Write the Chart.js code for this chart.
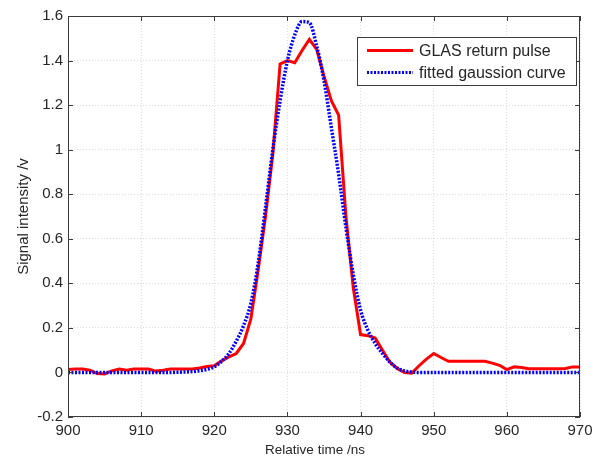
<!DOCTYPE html>
<html>
<head>
<meta charset="utf-8">
<script src="https://cdn.jsdelivr.net/npm/chart.js@4.4.1/dist/chart.umd.min.js"></script>
<style>
  html,body{margin:0;padding:0;background:#fff;}
  #wrap{width:602px;height:458px;}
</style>
</head>
<body>
<div id="wrap"><canvas id="myChart" width="602" height="458"></canvas></div>
<script>
//---------- data ----------
const timeNs=[900,901,902,903,904,905,906,907,908,909,910,911,912,913,914,915,916,917,918,919,
  920,921,922,923,924,925,926,927,928,929,930,931,932,933,934,935,936,937,938,939,
  940,941,942,943,944,945,946,947,948,949,950,951,952,953,954,955,956,957,958,959,
  960,961,962,963,964,965,966,967,968,969,970];
const glasPulse=[0.013,0.015,0.015,0.01,-0.005,-0.007,0.007,0.015,0.01,0.015,0.015,0.015,0.006,0.01,0.015,0.015,0.015,0.015,0.02,0.027,
  0.03,0.052,0.07,0.085,0.13,0.24,0.46,0.7,0.98,1.385,1.40,1.39,1.445,1.495,1.45,1.33,1.22,1.155,0.7,0.38,
  0.17,0.165,0.155,0.10,0.047,0.018,0.0,-0.003,0.03,0.06,0.085,0.067,0.05,0.05,0.05,0.05,0.05,0.05,0.042,0.032,
  0.013,0.025,0.022,0.017,0.017,0.017,0.017,0.017,0.018,0.025,0.025];
const gaussFit=[0,0,0,0,0,0,0,0,0,0,0,0,0,0,0,0.001,0.002,0.004,0.008,0.014,
  0.025,0.05,0.085,0.14,0.21,0.31,0.49,0.74,1.0,1.22,1.40,1.515,1.575,1.57,1.465,1.31,1.10,0.89,0.65,0.44,
  0.28,0.19,0.13,0.085,0.047,0.02,0.007,0.002,0,0,0,0,0,0,0,0,0,0,0,0,
  0,0,0,0,0,0,0,0,0,0,0];
const xTicks=[900,910,920,930,940,950,960,970];
const yTicks=[-0.2,0,0.2,0.4,0.6,0.8,1,1.2,1.4,1.6];
const seriesNames=["GLAS return pulse","fitted gaussion curve"];
const seriesColors=["#ff0000","#0000ff"];
const xTitle="Relative time /ns";
const yTitle="Signal intensity /v";

const fontName="'Liberation Sans', Arial, sans-serif";
const textColor="#262626";

// box round plot + inward ticks + x title + legend in upper right
const frameAndLegend={
  id:'frameAndLegend',
  afterDraw(chart){
    const c=chart.ctx, a=chart.chartArea;
    const xs=chart.scales.x, ys=chart.scales.y;
    c.save();
    c.strokeStyle='#3c3c3c';
    c.lineWidth=1;
    c.strokeRect(a.left+0.5,a.top+0.5,a.right-a.left-1,a.bottom-a.top-1);
    c.beginPath();
    xTicks.forEach(v=>{
      const px=Math.round(xs.getPixelForValue(v))+0.5;
      c.moveTo(px,a.bottom);c.lineTo(px,a.bottom-5);
      c.moveTo(px,a.top);c.lineTo(px,a.top+5);
    });
    yTicks.forEach(v=>{
      const py=Math.round(ys.getPixelForValue(v))+0.5;
      c.moveTo(a.left,py);c.lineTo(a.left+5,py);
      c.moveTo(a.right,py);c.lineTo(a.right-5,py);
    });
    c.stroke();

    // x axis title (sits a little left of centre in the original)
    c.fillStyle=textColor;
    c.font='13.5px '+fontName;
    c.textAlign='center';
    c.textBaseline='alphabetic';
    c.fillText(xTitle,315,454);

    // legend
    const bx=357,by=37,bw=219,bh=48;
    c.fillStyle='#fff';
    c.fillRect(bx,by,bw,bh);
    c.strokeStyle='#3c3c3c';
    c.strokeRect(bx+0.5,by+0.5,bw,bh);
    c.font='16px '+fontName;
    c.textAlign='left';
    c.textBaseline='middle';
    const rows=[50.5,72.5];
    seriesNames.forEach((name,i)=>{
      c.beginPath();
      c.strokeStyle=seriesColors[i];
      c.lineWidth=3;
      c.setLineDash(i===1?[2,1.5]:[]);
      c.moveTo(367,rows[i]);c.lineTo(413,rows[i]);
      c.stroke();
      c.setLineDash([]);
      c.fillStyle=textColor;
      c.fillText(name,419,rows[i]+1);
    });
    c.restore();
  }
};

const ctx=document.getElementById('myChart');
const chart=new Chart(ctx,{
  type:'line',
  data:{
    datasets:[
      {
        label:seriesNames[0],
        data:timeNs.map((t,i)=>({x:t,y:glasPulse[i]})),
        borderColor:seriesColors[0],
        borderWidth:3,
        pointRadius:0,
        tension:0,
        order:2
      },
      {
        label:seriesNames[1],
        data:timeNs.map((t,i)=>({x:t,y:gaussFit[i]})),
        borderColor:seriesColors[1],
        borderWidth:3.5,
        borderDash:[2,1.5],
        pointRadius:0,
        cubicInterpolationMode:'monotone',
        order:1
      }
    ]
  },
  options:{
    responsive:false,
    animation:false,
    layout:{padding:{top:16,right:22,left:0,bottom:0}},
    plugins:{legend:{display:false},tooltip:{enabled:false}},
    scales:{
      x:{
        type:'linear',
        min:900,max:970,
        afterBuildTicks:s=>{s.ticks=xTicks.map(v=>({value:v}));},
        afterFit:s=>{s.height=41;},
        grid:{color:'#dcdcdc',drawTicks:false},
        border:{display:false,dash:[1,2]},
        ticks:{color:textColor,font:{family:fontName,size:15},padding:5,maxRotation:0}
      },
      y:{
        min:-0.2,max:1.6,
        afterBuildTicks:s=>{s.ticks=yTicks.map(v=>({value:v}));},
        afterFit:s=>{s.width=68;},
        grid:{color:'#dcdcdc',drawTicks:false},
        border:{display:false,dash:[1,2]},
        ticks:{color:textColor,font:{family:fontName,size:15},padding:5,
          callback:v=>String(+v.toFixed(1))},
        title:{display:true,text:yTitle,color:textColor,font:{family:fontName,size:15},padding:{top:15,bottom:0}}
      }
    }
  },
  plugins:[frameAndLegend]
});
</script>
</body>
</html>
